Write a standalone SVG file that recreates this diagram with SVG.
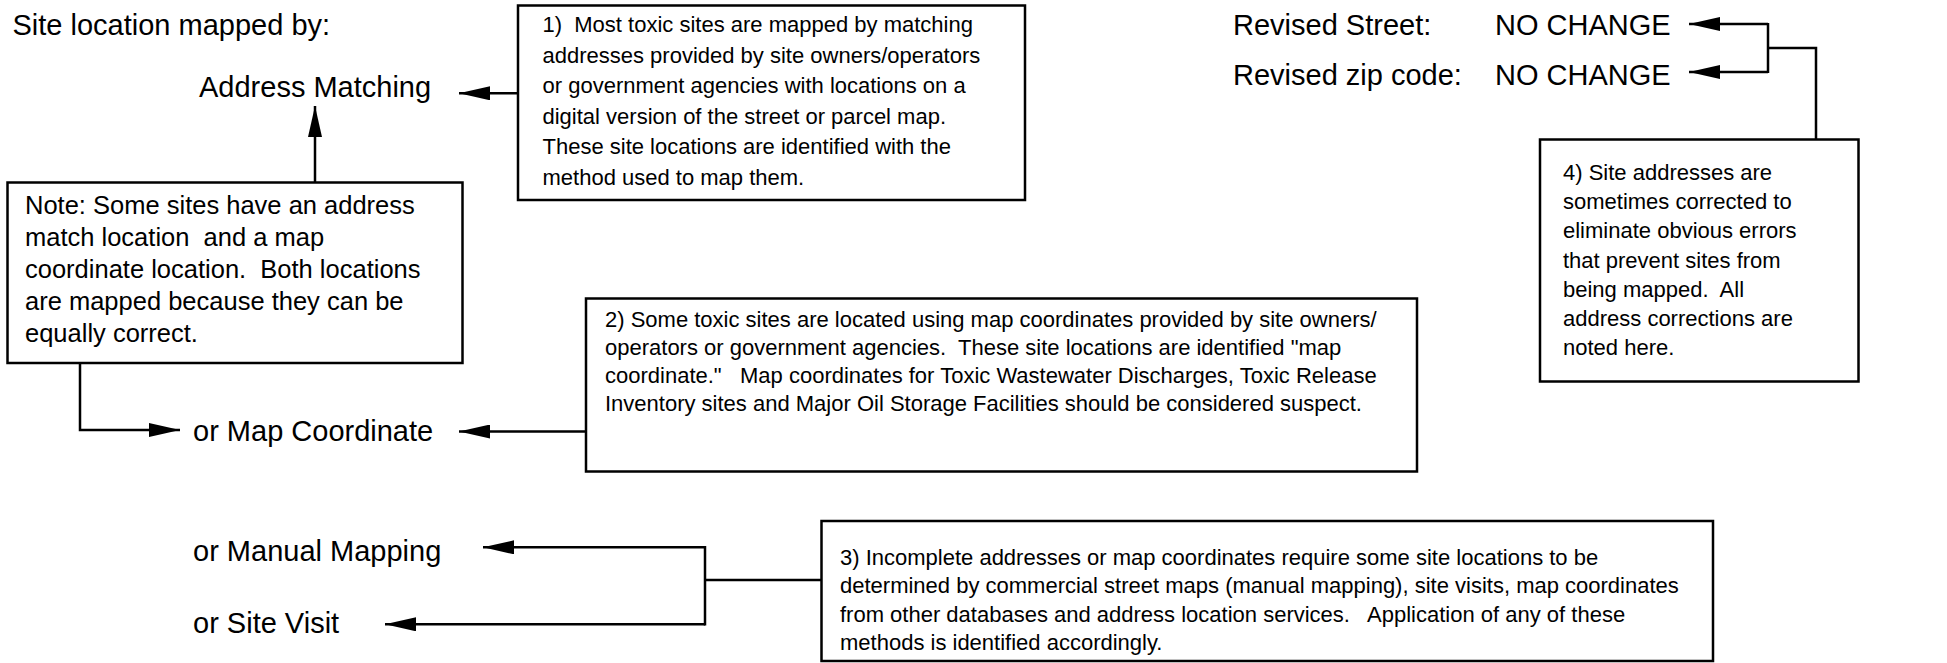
<svg xmlns="http://www.w3.org/2000/svg" width="1947" height="663" viewBox="0 0 1947 663">
<style>
text{font-family:"Liberation Sans",Arial,sans-serif;fill:#000;white-space:pre}
.big{font-size:29px}
.note{font-size:25.5px}
.small{font-size:22px}
.box{fill:#fff;stroke:#000;stroke-width:2.5}
.conn{fill:none;stroke:#000;stroke-width:2.5}
</style>
<defs>
<marker id="ah" viewBox="0 0 31 14" refX="31" refY="7" markerWidth="31" markerHeight="14" markerUnits="userSpaceOnUse" orient="auto"><path d="M0,0 L31,7 L0,14 z" fill="#000"/></marker>
</defs>
<rect width="1947" height="663" fill="#fff"/>
<g id="labels">
<text class="big" x="12.5" y="35">Site location mapped by:</text>
<text class="big" x="199" y="97">Address Matching</text>
<text class="big" x="193" y="441">or Map Coordinate</text>
<text class="big" x="193" y="560.5">or Manual Mapping</text>
<text class="big" x="193" y="632.5">or Site Visit</text>
<text class="big" x="1233" y="35">Revised Street:</text>
<text class="big" x="1495" y="35">NO CHANGE</text>
<text class="big" x="1233" y="84.5">Revised zip code:</text>
<text class="big" x="1495" y="84.5">NO CHANGE</text>
</g>
<g id="connectors">
<path class="conn" d="M518,93.3 H459" marker-end="url(#ah)"/>
<path class="conn" d="M315,182 V106" marker-end="url(#ah)"/>
<path class="conn" d="M80,363 V430 H180" marker-end="url(#ah)"/>
<path class="conn" d="M586,431.5 H459" marker-end="url(#ah)"/>
<path class="conn" d="M821,580 H705"/>
<path class="conn" d="M705,546 V625.5"/>
<path class="conn" d="M705,547.3 H483" marker-end="url(#ah)"/>
<path class="conn" d="M705,624.3 H385" marker-end="url(#ah)"/>
<path class="conn" d="M1816,139 V48 H1768"/>
<path class="conn" d="M1768,23 V73"/>
<path class="conn" d="M1768,24 H1689" marker-end="url(#ah)"/>
<path class="conn" d="M1768,72 H1689" marker-end="url(#ah)"/>
</g>
<g id="box1">
<rect class="box" x="518" y="5.5" width="507" height="194.5"/>
<text class="small" x="542.5" y="32">1)  Most toxic sites are mapped by matching</text>
<text class="small" x="542.5" y="62.5">addresses provided by site owners/operators</text>
<text class="small" x="542.5" y="93">or government agencies with locations on a</text>
<text class="small" x="542.5" y="123.5">digital version of the street or parcel map.</text>
<text class="small" x="542.5" y="154">These site locations are identified with the</text>
<text class="small" x="542.5" y="184.5">method used to map them.</text>
</g>
<g id="note">
<rect class="box" x="7.5" y="182.5" width="455" height="180.5"/>
<text class="note" x="25" y="213.5">Note: Some sites have an address</text>
<text class="note" x="25" y="245.6">match location  and a map</text>
<text class="note" x="25" y="277.7">coordinate location.  Both locations</text>
<text class="note" x="25" y="309.8">are mapped because they can be</text>
<text class="note" x="25" y="341.9">equally correct.</text>
</g>
<g id="box2">
<rect class="box" x="586" y="298.5" width="831" height="173"/>
<text class="small" x="605" y="326.5">2) Some toxic sites are located using map coordinates provided by site owners/</text>
<text class="small" x="605" y="354.5">operators or government agencies.  These site locations are identified "map</text>
<text class="small" x="605" y="382.5">coordinate."   Map coordinates for Toxic Wastewater Discharges, Toxic Release</text>
<text class="small" x="605" y="410.5">Inventory sites and Major Oil Storage Facilities should be considered suspect.</text>
</g>
<g id="box3">
<rect class="box" x="821.5" y="521" width="891.5" height="140"/>
<text class="small" x="840" y="565">3) Incomplete addresses or map coordinates require some site locations to be</text>
<text class="small" x="840" y="593.3">determined by commercial street maps (manual mapping), site visits, map coordinates</text>
<text class="small" x="840" y="621.6">from other databases and address location services.   Application of any of these</text>
<text class="small" x="840" y="650">methods is identified accordingly.</text>
</g>
<g id="box4">
<rect class="box" x="1540" y="139.5" width="318.5" height="242"/>
<text class="small" x="1563" y="180">4) Site addresses are</text>
<text class="small" x="1563" y="209.2">sometimes corrected to</text>
<text class="small" x="1563" y="238.4">eliminate obvious errors</text>
<text class="small" x="1563" y="267.6">that prevent sites from</text>
<text class="small" x="1563" y="296.8">being mapped.  All</text>
<text class="small" x="1563" y="326">address corrections are</text>
<text class="small" x="1563" y="355.2">noted here.</text>
</g>
</svg>
